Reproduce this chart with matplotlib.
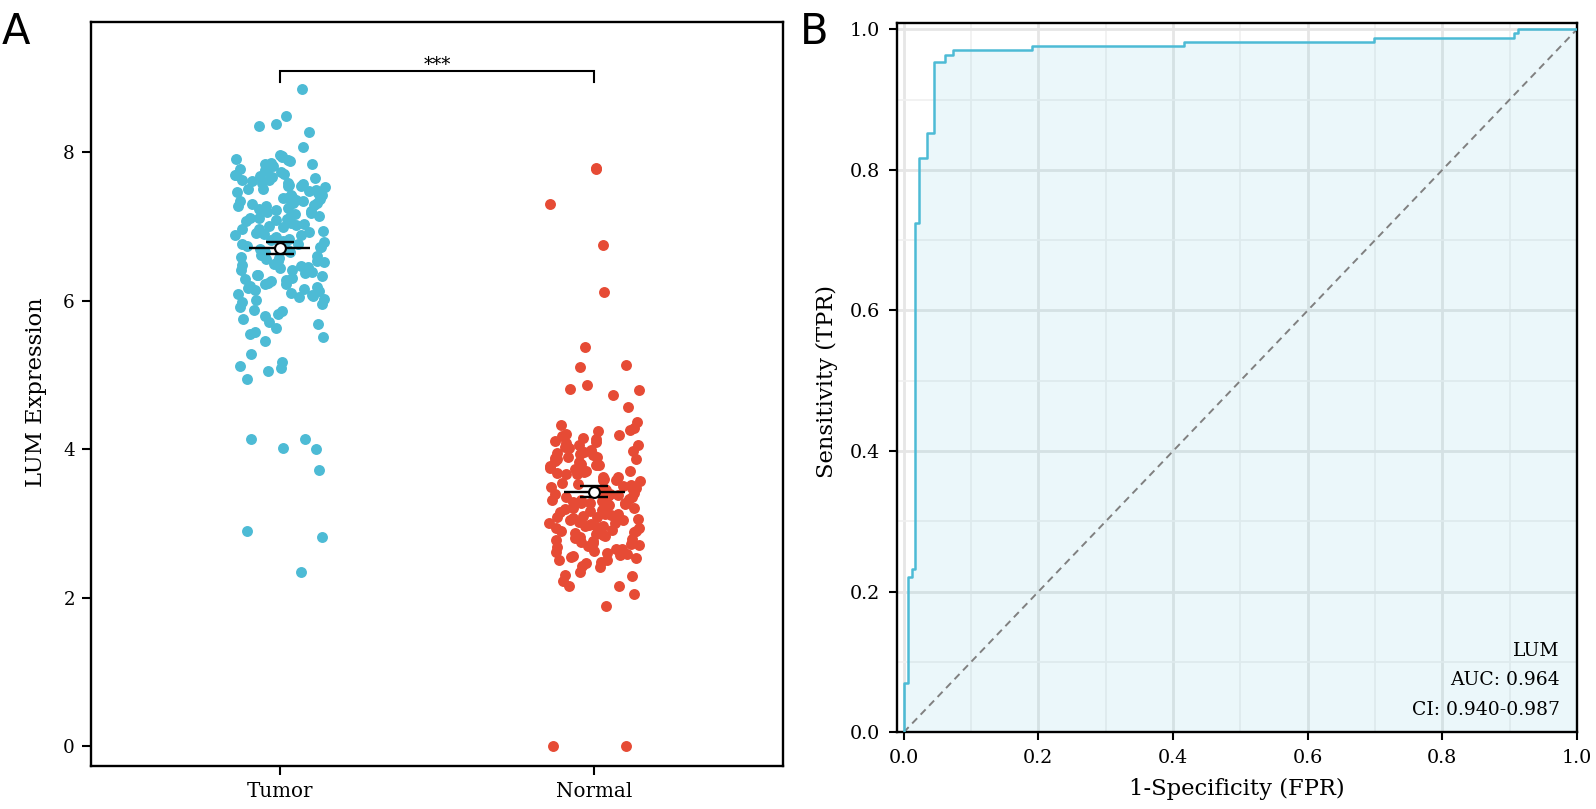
import numpy as np
import matplotlib
matplotlib.use("Agg")
import matplotlib.pyplot as plt
from matplotlib.ticker import MultipleLocator, FormatStrFormatter

# ---------------- data ----------------
categories = ["Tumor", "Normal"]

tumor_values = [
    8.85, 8.49, 8.38, 8.36, 8.27, 8.07, 7.96, 7.95, 7.93, 7.91, 7.90, 7.88, 7.86, 7.84, 7.84, 7.82,
    6.01, 6.02, 6.05, 6.06, 6.08, 6.09,
    6.10, 6.13, 6.14, 6.16, 6.17, 6.19,
    6.20, 6.22, 6.23, 6.24, 6.26, 6.28, 6.29,
    6.31, 6.33, 6.34, 6.35, 6.37, 6.39,
    6.41, 6.42, 6.44, 6.46, 6.47, 6.48,
    6.50, 6.52, 6.53, 6.54, 6.56, 6.58, 6.59,
    6.60, 6.62, 6.65, 6.66, 6.68, 6.69,
    6.70, 6.72, 6.73, 6.74, 6.76, 6.77, 6.79,
    6.81, 6.82, 6.83, 6.85, 6.86, 6.88, 6.89,
    6.90, 6.91, 6.93, 6.94, 6.96, 6.97, 6.99,
    7.00, 7.02, 7.03, 7.05, 7.06, 7.08, 7.09,
    7.10, 7.11, 7.12, 7.14, 7.15, 7.17, 7.18, 7.19,
    7.21, 7.22, 7.24, 7.25, 7.27, 7.28, 7.29,
    7.30, 7.31, 7.32, 7.34, 7.35, 7.36, 7.37, 7.38, 7.39,
    7.40, 7.42, 7.43, 7.45, 7.46, 7.48, 7.49,
    7.50, 7.51, 7.53, 7.54, 7.55, 7.56, 7.57, 7.58, 7.59,
    7.61, 7.62, 7.63, 7.65, 7.67, 7.68, 7.69,
    7.70, 7.71, 7.73, 7.75, 7.76, 7.78,
    5.98, 5.95, 5.91, 5.88, 5.86, 5.82, 5.79, 5.75, 5.71, 5.69, 5.63, 5.58, 5.55, 5.51,
    5.46, 5.28, 5.17, 5.12, 5.09, 5.05, 4.94, 4.13, 4.13, 4.02, 4.00, 3.72, 2.89, 2.81, 2.35,
]

normal_values = [
    7.79, 7.78, 7.30, 6.75, 6.12, 5.38, 5.14, 5.10, 4.87, 4.81, 4.79, 4.73, 4.57,
    0.00, 0.00, 1.89, 2.05, 2.15, 2.16, 2.22, 2.29, 2.31, 2.35,
    2.41, 2.43, 2.46, 2.48,
    2.50, 2.51, 2.53, 2.54, 2.56, 2.57, 2.59,
    2.60, 2.62, 2.63, 2.65, 2.66, 2.68, 2.69,
    2.71, 2.72, 2.74, 2.75, 2.76, 2.78, 2.79,
    2.80, 2.81, 2.83, 2.84, 2.85, 2.87, 2.88, 2.89,
    2.90, 2.91, 2.93, 2.94, 2.95, 2.96, 2.97, 2.98, 2.99,
    3.00, 3.01, 3.02, 3.04, 3.05, 3.06, 3.07, 3.08, 3.09,
    3.10, 3.11, 3.12, 3.13, 3.15, 3.15, 3.17, 3.18, 3.19,
    3.20, 3.21, 3.23, 3.24, 3.26, 3.27, 3.27, 3.28, 3.29,
    3.30, 3.31, 3.32, 3.33, 3.35, 3.36, 3.37, 3.38, 3.39,
    3.40, 3.41, 3.42, 3.43, 3.45, 3.46, 3.47, 3.48, 3.49,
    3.50, 3.51, 3.53, 3.54, 3.57, 3.58, 3.59,
    3.60, 3.62, 3.63, 3.66, 3.67, 3.68, 3.69,
    3.70, 3.71, 3.73, 3.75, 3.77, 3.78, 3.79,
    3.80, 3.82, 3.84, 3.86, 3.87, 3.88, 3.89,
    3.90, 3.92, 3.93, 3.95, 3.96, 3.98, 3.99,
    4.01, 4.03, 4.05, 4.06, 4.08, 4.09,
    4.11, 4.13, 4.15, 4.17, 4.19,
    4.21, 4.24, 4.26, 4.28,
    4.32, 4.36,
]

significance_label = "***"

roc_fpr = [0.000, 0.000, 0.006, 0.006, 0.012, 0.012, 0.017, 0.017, 0.023, 0.023,
           0.034, 0.034, 0.045, 0.045, 0.062, 0.062, 0.073, 0.073, 0.190, 0.190,
           0.417, 0.417, 0.699, 0.699, 0.906, 0.906, 0.913, 0.913, 1.000]
roc_tpr = [0.000, 0.070, 0.070, 0.221, 0.221, 0.233, 0.233, 0.724, 0.724, 0.817,
           0.817, 0.853, 0.853, 0.953, 0.953, 0.964, 0.964, 0.970, 0.970, 0.976,
           0.976, 0.982, 0.982, 0.988, 0.988, 0.994, 0.994, 1.000, 1.000]
roc_gene = "LUM"
roc_auc_text = "AUC: 0.964"
roc_ci_text = "CI: 0.940-0.987"

# ---------------- style ----------------
plt.rcParams['font.family'] = ['DejaVu Serif']
tumor_col = "#4DBBD5"
normal_col = "#E64B35"
label_fs = 16.3

fig = plt.figure(figsize=(15.96, 8.09), dpi=100)
fig.patch.set_facecolor("white")

axA = fig.add_axes([0.0570, 0.0532, 0.4336, 0.9191])
axB = fig.add_axes([0.5620, 0.0948, 0.4261, 0.8764])

# ---------------- panel A ----------------
for k, (vals, col) in enumerate(zip([tumor_values, normal_values], [tumor_col, normal_col])):
    v = np.asarray(vals, dtype=float)
    n = len(v)
    i = np.arange(n, dtype=float) + 1.0 + 7.0 * k
    # deterministic hash-based horizontal jitter (strip-plot spread)
    h = np.sin(i * 12.9898 + 78.233) * 43758.5453
    offs = (h - np.floor(h) - 0.5) * 0.29
    axA.scatter(k + offs, v, s=62, color=col, linewidths=0, zorder=2)
    m = v.mean()
    se = v.std(ddof=1) / np.sqrt(n)
    axA.plot([k - 0.097, k + 0.097], [m, m], color="black", lw=1.7, zorder=3,
             solid_capstyle="butt")
    axA.errorbar(k, m, yerr=se, fmt="none", ecolor="black", elinewidth=1.7,
                 capsize=10, capthick=1.7, zorder=3)
    axA.plot(k, m, "o", ms=7.8, mfc="white", mec="black", mew=1.5, zorder=4)

axA.plot([0, 0, 1, 1], [8.95, 9.10, 9.10, 8.95], color="black", lw=1.5,
         solid_joinstyle="miter")
axA.text(0.5, 9.06, significance_label, ha="center", va="bottom", fontsize=13)

axA.set_xlim(-0.6, 1.6)
axA.set_ylim(-0.27, 9.75)
axA.set_xticks([0, 1])
axA.set_xticklabels(categories)
axA.set_yticks([0, 2, 4, 6, 8])
for sp in axA.spines.values():
    sp.set_linewidth(1.7)
axA.tick_params(axis="both", direction="out", length=6.5, width=1.5, pad=5)
axA.tick_params(axis="x", labelsize=14.3)
axA.tick_params(axis="y", labelsize=13.2)

# ---------------- panel B ----------------
axB.set_axisbelow(True)
axB.xaxis.set_major_locator(MultipleLocator(0.2))
axB.yaxis.set_major_locator(MultipleLocator(0.2))
axB.xaxis.set_minor_locator(MultipleLocator(0.1))
axB.yaxis.set_minor_locator(MultipleLocator(0.1))
axB.xaxis.set_major_formatter(FormatStrFormatter("%.1f"))
axB.yaxis.set_major_formatter(FormatStrFormatter("%.1f"))
axB.grid(which="major", color="#E6E6E6", lw=2.0)
axB.grid(which="minor", color="#F0F0F0", lw=1.2)

axB.fill_between(roc_fpr, roc_tpr, 0, color=tumor_col, alpha=0.11, lw=0, zorder=1)
axB.plot([0, 1], [0, 1], color="#808080", lw=1.4, ls=(0, (3.7, 2.6)), zorder=2)
axB.plot(roc_fpr, roc_tpr, color=tumor_col, lw=1.8, zorder=3)

axB.text(0.974, 0.115, roc_gene, ha="right", va="center", fontsize=13.5)
axB.text(0.974, 0.0745, roc_auc_text, ha="right", va="center", fontsize=13.5)
axB.text(0.974, 0.0324, roc_ci_text, ha="right", va="center", fontsize=13.5)

axB.set_xlim(-0.01, 1.0)
axB.set_ylim(0.0, 1.0085)
for sp in axB.spines.values():
    sp.set_linewidth(1.7)
axB.tick_params(which="major", direction="out", length=6, width=1.5,
                labelsize=13.8, pad=6)
axB.tick_params(which="minor", length=0)

# ---------------- labels ----------------
fig.text(0.0226, 0.5155, "LUM Expression", rotation=90, ha="center", va="center",
         fontsize=label_fs)
fig.text(0.518, 0.528, "Sensitivity (TPR)", rotation=90, ha="center", va="center",
         fontsize=label_fs)
fig.text(0.775, 0.0247, "1-Specificity (FPR)", ha="center", va="center",
         fontsize=label_fs)
fig.text(0.001, 0.987, "A", ha="left", va="top", fontsize=30, family="DejaVu Sans")
fig.text(0.501, 0.987, "B", ha="left", va="top", fontsize=30, family="DejaVu Sans")

fig.savefig("out.png", dpi=100, facecolor="white")
